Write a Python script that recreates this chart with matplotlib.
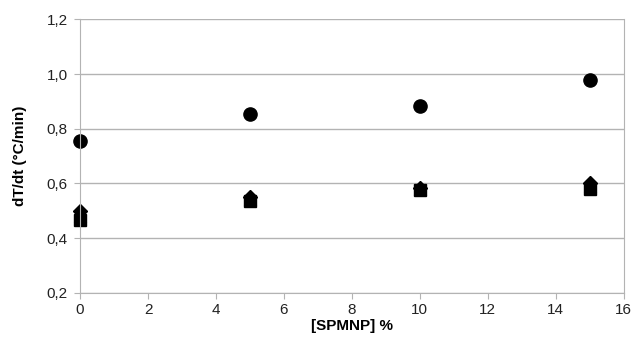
import matplotlib.pyplot as plt
from matplotlib.ticker import FuncFormatter

plt.rcParams['font.family'] = ['Liberation Sans', 'DejaVu Sans']

# data
conc = [0, 5, 10, 15]
circles = [0.756, 0.855, 0.885, 0.98]
diamonds = [0.50, 0.55, 0.585, 0.60]
triangles = [0.48, 0.545, 0.58, 0.59]
squares = [0.468, 0.535, 0.575, 0.58]

fig = plt.figure(figsize=(6.41, 3.47), dpi=100)
ax = fig.add_axes([0.125, 0.156, 0.848, 0.788])

ax.plot(conc, circles, 'o', color='black', ms=9.5, ls='none', clip_on=False)
ax.plot(conc, triangles, '^', color='black', ms=9, ls='none', clip_on=False)
ax.plot(conc, diamonds, 'D', color='black', ms=7, ls='none', clip_on=False)
ax.plot(conc, squares, 's', color='black', ms=8.5, ls='none', clip_on=False)

ax.set_xlim(0, 16)
ax.set_ylim(0.2, 1.2)
ax.set_xticks(range(0, 17, 2))
ax.set_yticks([0.2, 0.4, 0.6, 0.8, 1.0, 1.2])
ax.yaxis.set_major_formatter(FuncFormatter(lambda v, p: f"{v:.1f}".replace('.', ',')))

ax.grid(axis='y', color='#b3b3b3', lw=1)
ax.set_axisbelow(True)
for s in ax.spines.values():
    s.set_color('#b3b3b3')
ax.spines['top'].set_visible(False)
ax.tick_params(colors='#b3b3b3', labelcolor='#222222', labelsize=11, length=4)
ax.tick_params(axis='x', pad=3)
ax.tick_params(axis='y', pad=5)

ax.set_xlabel('[SPMNP] %', fontsize=11, fontweight='bold', labelpad=2)
ax.set_ylabel('dT/dt (°C/min)', fontsize=11, fontweight='bold', labelpad=14)

fig.savefig('out.png', dpi=100)
